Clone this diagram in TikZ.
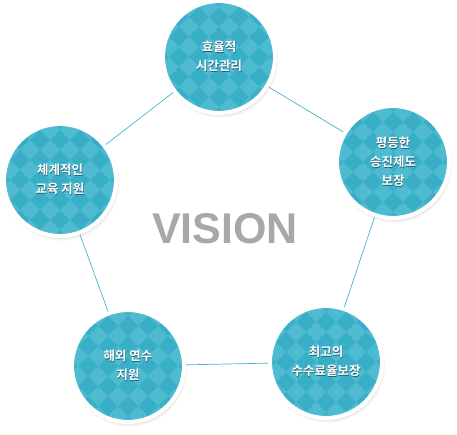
\documentclass[tikz,border=0pt]{standalone}
\usepackage{fontspec}
\setmainfont{Liberation Sans}
\newfontfamily\krbold{Noto Sans CJK KR Bold}
\usepackage{xcolor}
\definecolor{vteal}{RGB}{56,174,199}
\definecolor{vtealLight}{RGB}{78,187,209}
\definecolor{vline}{RGB}{70,182,204}
\definecolor{vgray}{RGB}{168,168,168}
\definecolor{vshade}{RGB}{40,95,110}
\usetikzlibrary{shadows, calc}

% white label text with a soft dark shade under it
\newcommand\shadetext[1]{\leavevmode\rlap{\hspace{0.5pt}\raisebox{-0.8pt}{\textcolor{vshade}{#1}}}#1}

\tikzset{
  visioncircle/.style={circle, minimum size=112pt, inner sep=0pt,
    fill=vteal, draw=white, line width=4pt,
    circular drop shadow={shadow scale=1.04, shadow xshift=1pt, shadow yshift=-2.5pt, opacity=0.45},
    text=white, font=\krbold\fontsize{12.5}{19}\selectfont, align=center,
    path picture={
      % light diamonds of the check pattern
      \foreach \i in {-7,-5,...,7}
        \foreach \j in {-7,-5,...,7}
          \fill[vtealLight] ($(path picture bounding box.center)+(\i*10pt,\j*10pt)$)
            +(-10pt,0pt) -- +(0pt,10pt) -- +(10pt,0pt) -- +(0pt,-10pt) -- cycle;
    }},
  link/.style={vline, line width=0.7pt}
}

\begin{document}
\begin{tikzpicture}[x=1pt, y=-1pt]
  \useasboundingbox (0,0) rectangle (457,435);

  % --- Centre title ---
  \node[font=\bfseries\fontsize{43}{43}\selectfont, text=vgray] (title) at (225,229) {VISION};

  % --- Circles ---
  \node[visioncircle] (time)   at (219,57)  {\shadetext{효율적}\\\shadetext{시간관리}};
  \node[visioncircle] (promo)  at (393,162) {\shadetext{평등한}\\\shadetext{승진제도}\\\shadetext{보장}};
  \node[visioncircle] (fee)    at (326,362) {\shadetext{최고의}\\\shadetext{수수료율보장}};
  \node[visioncircle] (abroad) at (128,366) {\shadetext{해외 연수}\\\shadetext{지원}};
  \node[visioncircle] (edu)    at (60,180)  {\shadetext{체계적인}\\\shadetext{교육 지원}};

  % --- Links ---
  \draw[link] (time) -- (promo);
  \draw[link] (promo) -- (fee);
  \draw[link] (fee) -- (abroad);
  \draw[link] (abroad) -- (edu);
  \draw[link] (edu) -- (time);
\end{tikzpicture}
\end{document}
